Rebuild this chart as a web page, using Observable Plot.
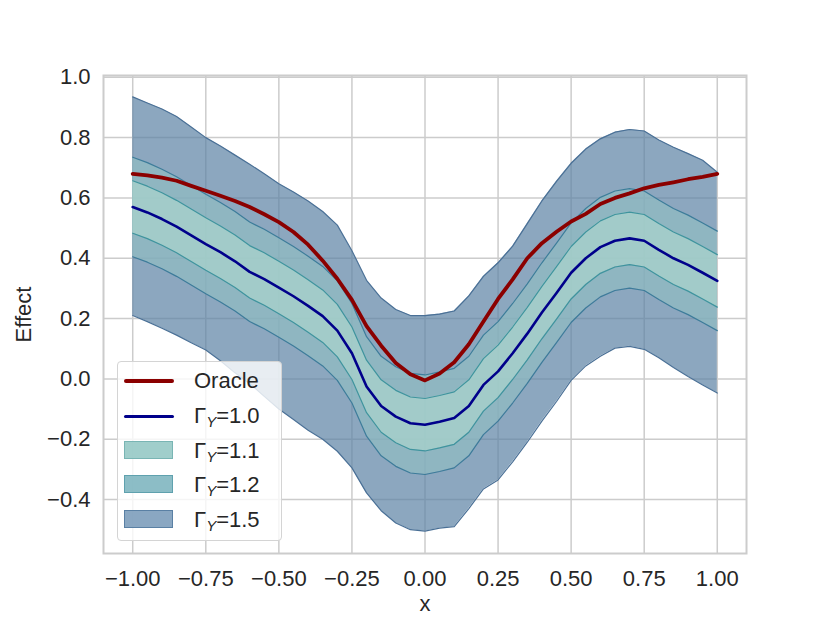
<!DOCTYPE html>
<html>
<head>
<meta charset="utf-8">
<script src="https://cdn.jsdelivr.net/npm/d3@7"></script>
<script src="https://cdn.jsdelivr.net/npm/@observablehq/plot@0.6"></script>
<style>
  html, body { margin: 0; padding: 0; background: #fff; }
  #wrap { position: relative; width: 830px; height: 623px; font-family: "Liberation Sans", Arial, Helvetica, sans-serif; color: #262626; }
  #legend { position: absolute; left: 117px; top: 361px; width: 163px; height: 178px; background: rgba(255,255,255,0.8); border: 1px solid #d4d4d4; border-radius: 4px; }
  .lrow { position: absolute; left: 0; height: 30px; width: 160px; }
  .ltext { position: absolute; left: 76px; top: 0; font-size: 22px; line-height: 30px; white-space: nowrap; }
  .ltext sub { font-size: 15px; font-style: italic; vertical-align: -4px; line-height: 0; margin-left: 0px; }
  .lline { position: absolute; left: 6px; width: 50px; border-radius: 3px; }
  .lpatch { position: absolute; left: 7px; width: 47px; height: 16px; top: 6px; }
</style>
</head>
<body>
<div id="wrap"></div>
<script>
const xs = [-1.00,-0.95,-0.90,-0.85,-0.80,-0.75,-0.70,-0.65,-0.60,-0.55,-0.50,-0.45,-0.40,-0.35,-0.30,-0.25,-0.20,-0.15,-0.10,-0.05,0.00,0.05,0.10,0.15,0.20,0.25,0.30,0.35,0.40,0.45,0.50,0.55,0.60,0.65,0.70,0.75,0.80,0.85,0.90,0.95,1.00];
const oracle = [0.680,0.675,0.667,0.657,0.640,0.624,0.607,0.590,0.570,0.546,0.520,0.487,0.445,0.392,0.332,0.262,0.175,0.110,0.053,0.015,-0.005,0.018,0.055,0.115,0.190,0.265,0.330,0.400,0.450,0.488,0.522,0.547,0.580,0.600,0.615,0.632,0.643,0.652,0.662,0.670,0.680];
const gamma10 = [0.570,0.552,0.530,0.505,0.476,0.447,0.420,0.390,0.355,0.331,0.303,0.274,0.242,0.208,0.160,0.085,-0.025,-0.090,-0.125,-0.147,-0.152,-0.142,-0.130,-0.090,-0.020,0.025,0.085,0.150,0.220,0.285,0.352,0.400,0.437,0.458,0.466,0.458,0.428,0.400,0.378,0.352,0.325];
const gamma11Lo = [0.483,0.465,0.443,0.418,0.389,0.360,0.333,0.303,0.268,0.244,0.216,0.187,0.155,0.121,0.073,-0.002,-0.112,-0.177,-0.212,-0.234,-0.239,-0.229,-0.217,-0.177,-0.107,-0.062,-0.002,0.063,0.133,0.198,0.265,0.313,0.350,0.371,0.379,0.371,0.341,0.313,0.291,0.265,0.238];
const gamma11Hi = [0.657,0.639,0.617,0.592,0.563,0.534,0.507,0.477,0.442,0.418,0.390,0.361,0.329,0.295,0.247,0.172,0.062,-0.003,-0.038,-0.060,-0.065,-0.055,-0.043,-0.003,0.067,0.112,0.172,0.237,0.307,0.372,0.439,0.487,0.524,0.545,0.553,0.545,0.515,0.487,0.465,0.439,0.412];
const gamma12Lo = [0.405,0.387,0.365,0.340,0.311,0.282,0.255,0.225,0.190,0.166,0.138,0.109,0.077,0.043,-0.005,-0.080,-0.190,-0.255,-0.290,-0.312,-0.317,-0.307,-0.295,-0.255,-0.185,-0.140,-0.080,-0.015,0.055,0.120,0.187,0.235,0.272,0.293,0.301,0.293,0.263,0.235,0.213,0.187,0.160];
const gamma12Hi = [0.735,0.717,0.695,0.670,0.641,0.612,0.585,0.555,0.520,0.496,0.468,0.439,0.407,0.373,0.325,0.250,0.140,0.075,0.040,0.018,0.013,0.023,0.035,0.075,0.145,0.190,0.250,0.315,0.385,0.450,0.517,0.565,0.602,0.623,0.631,0.623,0.593,0.565,0.543,0.517,0.490];
const gamma15Lo = [0.210,0.190,0.168,0.145,0.120,0.096,0.060,0.020,-0.015,-0.058,-0.100,-0.135,-0.170,-0.200,-0.240,-0.295,-0.378,-0.437,-0.478,-0.500,-0.505,-0.495,-0.490,-0.430,-0.365,-0.335,-0.275,-0.210,-0.140,-0.075,-0.005,0.043,0.075,0.102,0.108,0.098,0.070,0.038,0.008,-0.020,-0.047];
const gamma15Hi = [0.935,0.915,0.895,0.870,0.835,0.800,0.772,0.742,0.712,0.680,0.647,0.620,0.590,0.555,0.510,0.425,0.327,0.268,0.230,0.210,0.210,0.215,0.225,0.275,0.340,0.385,0.440,0.515,0.590,0.655,0.715,0.762,0.796,0.818,0.827,0.822,0.792,0.768,0.747,0.725,0.685];
const xTicks = [-1.00,-0.75,-0.50,-0.25,0.00,0.25,0.50,0.75,1.00];
const yTicks = [-0.4,-0.2,0.0,0.2,0.4,0.6,0.8,1.0];
const legendLabels = ["Oracle","1.0","1.1","1.2","1.5"];

const rows = xs.map((x, i) => ({
  x, oracle: oracle[i], g10: gamma10[i],
  g11lo: gamma11Lo[i], g11hi: gamma11Hi[i],
  g12lo: gamma12Lo[i], g12hi: gamma12Hi[i],
  g15lo: gamma15Lo[i], g15hi: gamma15Hi[i]
}));

const grid = "#cccccc";
const c15 = {fill: "rgb(91,129,164)", edge: "#4a7096"};
const c12 = {fill: "rgb(144,188,194)", edge: "#3d7c9a"};
const c11 = {fill: "rgb(170,212,204)", edge: "#3f949e"};

const chart = Plot.plot({
  width: 830,
  height: 623,
  marginLeft: 103,
  marginRight: 84,
  marginTop: 75,
  marginBottom: 70,
  style: {fontFamily: "'Liberation Sans', Arial, Helvetica, sans-serif", fontSize: "22px", color: "#262626", background: "#fff"},
  x: {domain: [-1.1, 1.1], ticks: xTicks, tickFormat: d => (d < 0 ? "\u2212" : "") + Math.abs(d).toFixed(2), tickSize: 0, tickPadding: 17, label: null},
  y: {domain: [-0.579, 1.006], ticks: yTicks, tickFormat: d => (d < 0 ? "\u2212" : "") + Math.abs(d).toFixed(1), tickSize: 0, tickPadding: 13, label: null},
  marks: [
    Plot.ruleX(xTicks, {stroke: grid, strokeWidth: 1.5}),
    Plot.ruleY(yTicks, {stroke: grid, strokeWidth: 1.5}),
    Plot.areaY(rows, {x: "x", y1: "g15lo", y2: "g15hi", fill: c15.fill, fillOpacity: 0.7}),
    Plot.lineY(rows, {x: "x", y: "g15lo", stroke: c15.edge, strokeWidth: 1.2}),
    Plot.lineY(rows, {x: "x", y: "g15hi", stroke: c15.edge, strokeWidth: 1.2}),
    Plot.areaY(rows, {x: "x", y1: "g12lo", y2: "g12hi", fill: c12.fill, fillOpacity: 0.7}),
    Plot.lineY(rows, {x: "x", y: "g12lo", stroke: c12.edge, strokeWidth: 1.2}),
    Plot.lineY(rows, {x: "x", y: "g12hi", stroke: c12.edge, strokeWidth: 1.2}),
    Plot.areaY(rows, {x: "x", y1: "g11lo", y2: "g11hi", fill: c11.fill, fillOpacity: 0.7}),
    Plot.lineY(rows, {x: "x", y: "g11lo", stroke: c11.edge, strokeWidth: 1.2}),
    Plot.lineY(rows, {x: "x", y: "g11hi", stroke: c11.edge, strokeWidth: 1.2}),
    Plot.lineY(rows, {x: "x", y: "g10", stroke: "#00008b", strokeWidth: 2.6}),
    Plot.lineY(rows, {x: "x", y: "oracle", stroke: "#8b0000", strokeWidth: 3.8}),
    Plot.frame({stroke: grid, strokeWidth: 2}),
    Plot.text(["Effect"], {frameAnchor: "left", dx: -80, rotate: -90, textAnchor: "middle", lineAnchor: "middle", fontSize: 22, fill: "#262626"}),
    Plot.text(["x"], {frameAnchor: "bottom", dy: 57, fontSize: 22, fill: "#262626"})
  ]
});

const wrap = document.getElementById("wrap");
wrap.appendChild(chart);

const legend = document.createElement("div");
legend.id = "legend";
const rowTops = [4, 39, 74, 108, 143];
const items = [
  {type: "line", color: "#8b0000", w: 4.5},
  {type: "line", color: "#00008b", w: 3},
  {type: "patch", fill: "rgba(143,198,194,0.85)", edge: "#79b5b4"},
  {type: "patch", fill: "rgba(127,182,192,0.9)", edge: "#5fa1ae"},
  {type: "patch", fill: "rgba(125,157,187,0.9)", edge: "#5a80a4"}
];
items.forEach((it, i) => {
  const r = document.createElement("div");
  r.className = "lrow";
  r.style.top = rowTops[i] + "px";
  if (it.type === "line") {
    const l = document.createElement("div");
    l.className = "lline";
    l.style.background = it.color;
    l.style.height = it.w + "px";
    l.style.top = (15 - it.w / 2) + "px";
    r.appendChild(l);
  } else {
    const p = document.createElement("div");
    p.className = "lpatch";
    p.style.background = it.fill;
    p.style.outline = "1px solid " + it.edge;
    r.appendChild(p);
  }
  const t = document.createElement("div");
  t.className = "ltext";
  if (i === 0) t.textContent = legendLabels[0];
  else t.innerHTML = "\u0393<sub>Y</sub>=" + legendLabels[i];
  r.appendChild(t);
  legend.appendChild(r);
});
wrap.appendChild(legend);
</script>
</body>
</html>
